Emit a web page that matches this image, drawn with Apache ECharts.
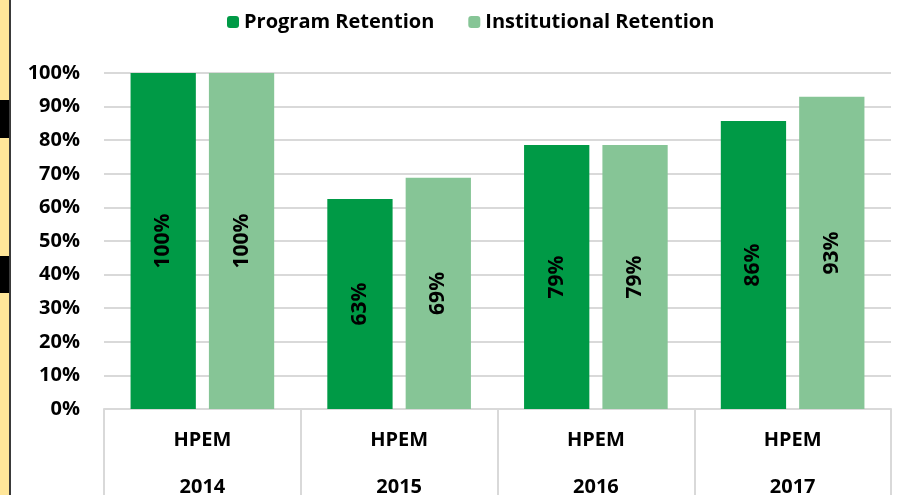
<!DOCTYPE html>
<html>
<head>
<meta charset="utf-8">
<script src="https://cdn.jsdelivr.net/npm/echarts@6/dist/echarts.min.js"></script>
<style>
  html, body { margin: 0; padding: 0; background: #fff; }
  #chart { width: 902px; height: 495px; }
</style>
</head>
<body>
<div id="chart"></div>
<script>
const programs = ['HPEM', 'HPEM', 'HPEM', 'HPEM']
const years = ['2014', '2015', '2016', '2017']
const programRetention = [100, 62.5, 78.6, 85.7]
const institutionalRetention = [100, 68.8, 78.6, 92.9]
const yTicks = [0, 10, 20, 30, 40, 50, 60, 70, 80, 90, 100]

const categories = years.map((y, i) => programs[i] + '\n' + y)
const font = '"Open Sans", "Liberation Sans", sans-serif'

const myChart = echarts.init(document.getElementById('chart'))

const barLabel = {
  show: true,
  position: 'inside',
  rotate: 90,
  color: '#000',
  fontWeight: 'bold',
  fontSize: 21,
  fontFamily: font,
  formatter: p => Math.round(p.value) + '%'
}

const option = {
  animation: false,
  textStyle: { fontFamily: font },
  graphic: [
    { type: 'rect', shape: { x: 0, y: 0, width: 9, height: 495 }, style: { fill: '#ffe699' } },
    { type: 'rect', shape: { x: 0, y: 100, width: 9, height: 38 }, style: { fill: '#000' } },
    { type: 'rect', shape: { x: 0, y: 256, width: 9, height: 37 }, style: { fill: '#000' } },
    { type: 'rect', shape: { x: 9, y: 0, width: 2, height: 495 }, style: { fill: '#3a3a3a' } }
  ],
  legend: {
    top: 7,
    left: 222,
    itemWidth: 12,
    itemHeight: 12,
    itemGap: 34,
    textStyle: { fontSize: 20, fontWeight: 'bold', color: '#000', fontFamily: font },
    data: ['Program Retention', 'Institutional Retention']
  },
  grid: {
    left: 104,
    right: 11,
    top: 73,
    bottom: 86,
    outerBoundsMode: 'none'
  },
  xAxis: {
    type: 'category',
    data: categories,
    axisLine: { show: true, lineStyle: { color: '#d9d9d9', width: 2 } },
    axisTick: { show: true, length: 90, lineStyle: { color: '#d9d9d9', width: 2 } },
    axisLabel: {
      color: '#000',
      fontSize: 20,
      fontWeight: 'bold',
      fontFamily: font,
      lineHeight: 47,
      margin: 8
    }
  },
  yAxis: {
    type: 'value',
    min: yTicks[0],
    max: yTicks[yTicks.length - 1],
    interval: 10,
    axisLine: { show: false },
    axisTick: { show: false },
    splitLine: { lineStyle: { color: '#d9d9d9', width: 2 } },
    axisLabel: {
      color: '#000',
      fontSize: 20,
      fontWeight: 'bold',
      fontFamily: font,
      margin: 24,
      formatter: '{value}%'
    }
  },
  series: [
    {
      name: 'Program Retention',
      type: 'bar',
      data: programRetention,
      barGap: '20%',
      barCategoryGap: '27%',
      itemStyle: { color: '#009a46' },
      label: barLabel
    },
    {
      name: 'Institutional Retention',
      type: 'bar',
      data: institutionalRetention,
      itemStyle: { color: '#86c596' },
      label: barLabel
    }
  ]
}

myChart.setOption(option)
</script>
</body>
</html>
